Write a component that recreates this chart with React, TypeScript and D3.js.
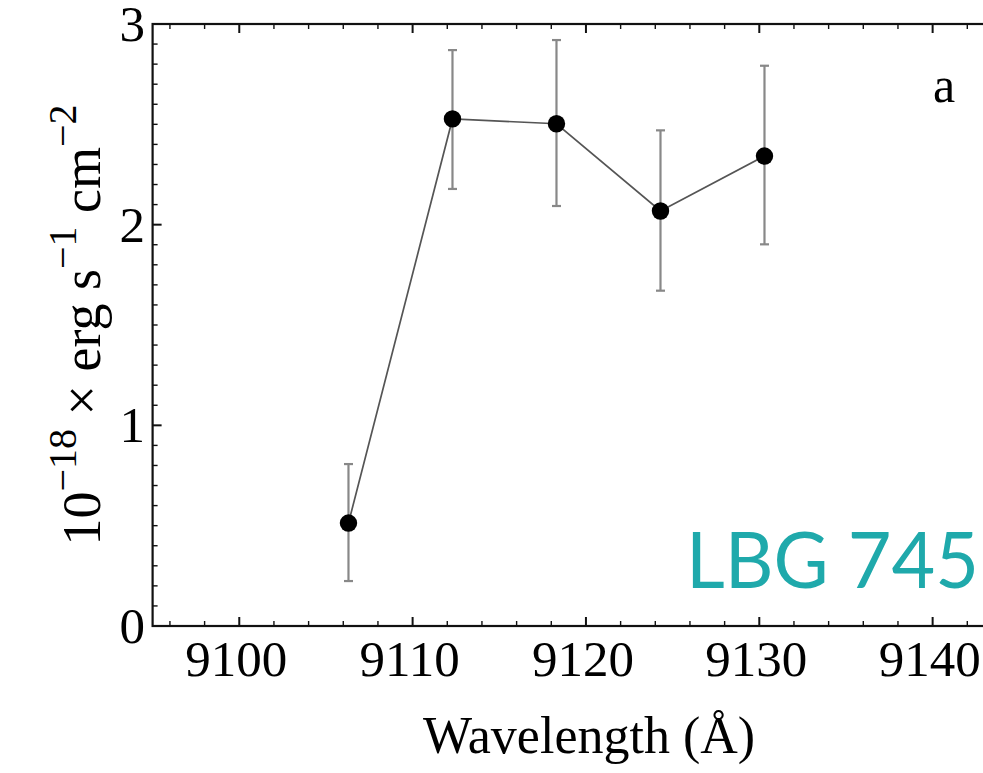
import React from "react";
import * as d3 from "d3";

const wavelengths = [9106.3, 9112.3, 9118.3, 9124.3, 9130.3];
const fluxes = [0.513, 2.527, 2.503, 2.068, 2.342];
const errLow = [0.224, 2.178, 2.093, 1.671, 1.902];
const errHigh = [0.807, 2.87, 2.92, 2.47, 2.792];
const xTickLabels = [9100, 9110, 9120, 9130, 9140];
const yTickLabels = [0, 1, 2, 3];

const W = 983;
const H = 773;
const serif = "'Liberation Serif', 'DejaVu Serif', serif";

export default function App() {
  const x = d3.scaleLinear().domain([9095, 9145]).range([152.6, 1019.3]);
  const y = d3.scaleLinear().domain([0, 3]).range([626, 24]);
  const top = y(3);
  const bottom = y(0);
  const left = x(9095);
  const right = x(9145);

  const xMinor = d3.range(9096, 9145, 2).filter((v) => v % 10 !== 0);
  const yMinor = d3.range(1, 30).map((v) => v / 10).filter((v) => Math.abs(v - Math.round(v)) > 1e-6);

  const pts = wavelengths.map((w, i) => ({ w, f: fluxes[i], lo: errLow[i], hi: errHigh[i] }));
  const line = d3
    .line<{ w: number; f: number }>()
    .x((d) => x(d.w))
    .y((d) => y(d.f));

  return (
    <div style={{ position: "absolute", left: 0, top: 0 }}>
      <svg width={W} height={H} style={{ display: "block", background: "#fff" }}>
        {/* error bars */}
        {pts.map((p, i) => (
          <g key={"e" + i} stroke="#888" strokeWidth={2.2}>
            <line x1={x(p.w)} x2={x(p.w)} y1={y(p.lo)} y2={y(p.hi)} />
            <line x1={x(p.w) - 4.5} x2={x(p.w) + 4.5} y1={y(p.lo)} y2={y(p.lo)} />
            <line x1={x(p.w) - 4.5} x2={x(p.w) + 4.5} y1={y(p.hi)} y2={y(p.hi)} />
          </g>
        ))}
        <path d={line(pts) || ""} fill="none" stroke="#555" strokeWidth={1.7} />
        {pts.map((p, i) => (
          <circle key={"c" + i} cx={x(p.w)} cy={y(p.f)} r={8.7} fill="#000" />
        ))}

        {/* frame */}
        <rect x={left} y={top} width={right - left} height={bottom - top} fill="none" stroke="#111" strokeWidth={2.2} />

        {/* x ticks */}
        {xTickLabels.map((v) => (
          <g key={"xt" + v} stroke="#111" strokeWidth={2}>
            <line x1={x(v)} x2={x(v)} y1={bottom} y2={bottom - 9} />
            <line x1={x(v)} x2={x(v)} y1={top} y2={top + 9} />
          </g>
        ))}
        {xMinor.map((v) => (
          <g key={"xm" + v} stroke="#111" strokeWidth={1.4}>
            <line x1={x(v)} x2={x(v)} y1={bottom} y2={bottom - 5} />
            <line x1={x(v)} x2={x(v)} y1={top} y2={top + 5} />
          </g>
        ))}
        {/* y ticks */}
        {yTickLabels.map((v) => (
          <line key={"yt" + v} x1={left} x2={left + 9} y1={y(v)} y2={y(v)} stroke="#111" strokeWidth={2} />
        ))}
        {yMinor.map((v) => (
          <line key={"ym" + v} x1={left} x2={left + 5} y1={y(v)} y2={y(v)} stroke="#111" strokeWidth={1.4} />
        ))}

        {/* tick labels */}
        {xTickLabels.map((v) => (
          <text key={"xl" + v} x={x(v) - 3} y={676} textAnchor="middle" fontFamily={serif} fontSize={51} fill="#000">
            {v}
          </text>
        ))}
        {yTickLabels.map((v) => (
          <text key={"yl" + v} x={145} y={y(v) + 17} textAnchor="end" fontFamily={serif} fontSize={51} fill="#000">
            {v}
          </text>
        ))}

        {/* axis labels */}
        <text x={589} y={753} textAnchor="middle" fontFamily={serif} fontSize={52} fill="#000">
          Wavelength (Å)
        </text>
        <text
          transform={`translate(100, ${(top + bottom) / 2}) rotate(-90)`}
          textAnchor="middle"
          fontFamily={serif}
          fontSize={54}
          fill="#000"
        >
          <tspan>10</tspan>
          <tspan fontSize={40} dy={-24}>−18</tspan>
          <tspan dy={24}> × erg s</tspan>
          <tspan fontSize={40} dy={-24}>−1</tspan>
          <tspan dy={24}> cm</tspan>
          <tspan fontSize={40} dy={-24}>−2</tspan>
        </text>

        <text x={944} y={102} textAnchor="middle" fontFamily={serif} fontSize={50} fill="#000">
          a
        </text>

        <text
          x={686}
          y={588}
          fontFamily="Lato, 'Open Sans', sans-serif"
          fontWeight={400}
          fontSize={77}
          fill="#1fa9ab"
          textLength={293}
          lengthAdjust="spacingAndGlyphs"
        >
          LBG 745
        </text>
      </svg>
    </div>
  );
}
